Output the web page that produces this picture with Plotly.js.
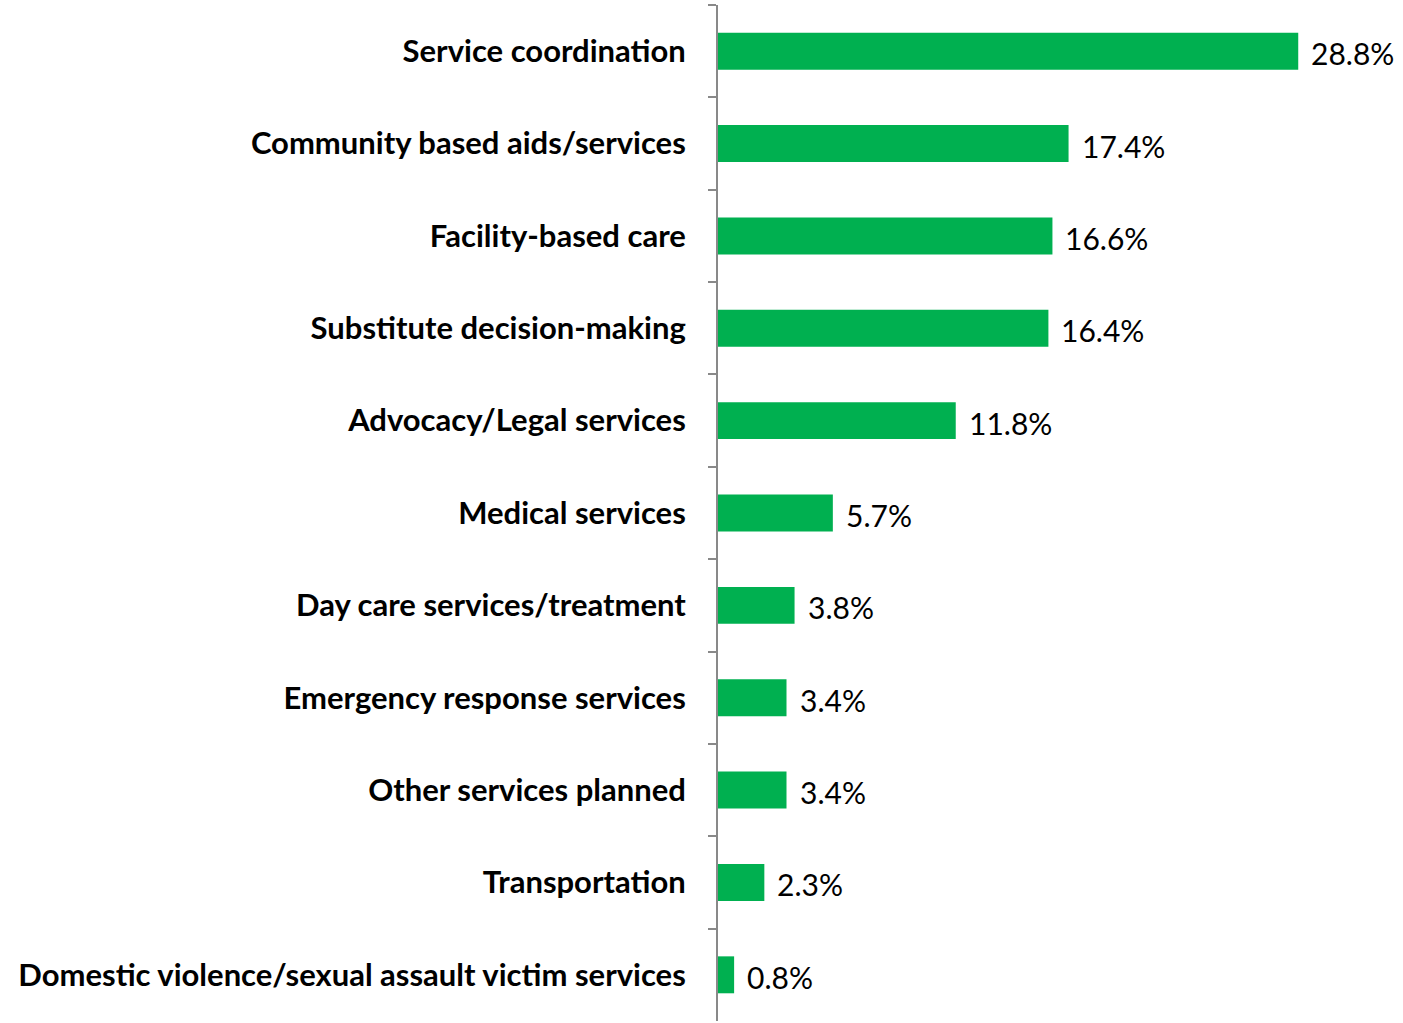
<!DOCTYPE html>
<html>
<head>
<meta charset="utf-8">
<script src="https://cdn.plot.ly/plotly-3.0.1.min.js"></script>
<style>html,body{margin:0;padding:0;background:#fff;}#chart{width:1403px;height:1023px;}</style>
</head>
<body>
<div id="chart"></div>
<script>
const categories = [
  "Service coordination",
  "Community based aids/services",
  "Facility-based care",
  "Substitute decision-making",
  "Advocacy/Legal services",
  "Medical services",
  "Day care services/treatment",
  "Emergency response services",
  "Other services planned",
  "Transportation",
  "Domestic violence/sexual assault victim services"
];
const values = [28.8, 17.4, 16.6, 16.4, 11.8, 5.7, 3.8, 3.4, 3.4, 2.3, 0.8];
const valueLabels = values.map(v => v.toFixed(1) + "%");

const FONT = "Lato, 'Open Sans', sans-serif";

const trace = {
  type: "bar",
  orientation: "h",
  x: values,
  y: categories,
  marker: {color: "#00B050"},
  hoverinfo: "none"
};

const annotations = categories.map((c, i) => ({
  x: values[i], y: c, xref: "x", yref: "y",
  text: valueLabels[i], showarrow: false,
  xanchor: "left", yanchor: "middle", xshift: 11, yshift: -2,
  font: {family: FONT, size: 30, color: "#000"}
}));

const layout = {
  width: 1403, height: 1023,
  margin: {l: 718, r: 0, t: 5, b: 2, pad: 0},
  paper_bgcolor: "#fff", plot_bgcolor: "#fff",
  showlegend: false,
  bargap: 0.6,
  xaxis: {range: [0, 34], visible: false, showgrid: false, zeroline: false, fixedrange: true},
  yaxis: {
    type: "category", autorange: "reversed",
    showline: true, linecolor: "#898989", linewidth: 2,
    ticks: "outside", tickson: "boundaries", ticklen: 8, tickcolor: "#898989", tickwidth: 2,
    ticklabelstandoff: 24,
    showgrid: false, zeroline: false,
    tickfont: {family: FONT, size: 31, color: "#000", weight: "bold"}
  },
  annotations: annotations
};

Plotly.newPlot("chart", [trace], layout, {displayModeBar: false, staticPlot: true});
</script>
</body>
</html>
